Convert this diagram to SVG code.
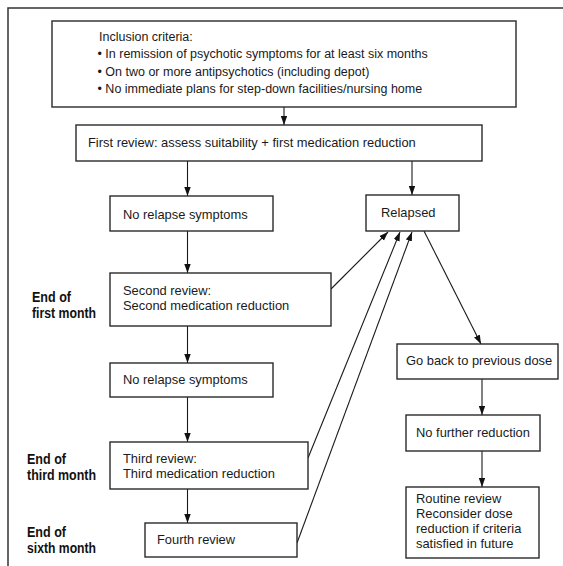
<svg xmlns="http://www.w3.org/2000/svg" width="563" height="566" viewBox="0 0 563 566">
<style>
.box{fill:#fff;stroke:#2a2a2a;stroke-width:1.4}
.t{font-family:"Liberation Sans",Arial,sans-serif;font-size:12.9px;fill:#1a1a1a}
.s{font-family:"Liberation Sans",Arial,sans-serif;font-size:12.5px;fill:#1a1a1a}
.b{font-family:"Liberation Sans",Arial,sans-serif;font-size:15px;font-weight:bold;fill:#111}
.c{fill:none;stroke:#1a1a1a;stroke-width:1.1;marker-end:url(#ah)}
.frame{fill:none;stroke:#333;stroke-width:1.5}
</style>
<defs>
<marker id="ah" markerUnits="userSpaceOnUse" markerWidth="10" markerHeight="8" refX="9" refY="3.2" orient="auto">
<path d="M0,0 L9,3.2 L0,6.4 z" fill="#111"/>
</marker>
</defs>
<rect width="563" height="566" fill="#fff"/>
<path class="frame" d="M8,566 V8 H563"/>

<g id="connectors">
<line class="c" x1="284" y1="107" x2="284" y2="125"/>
<line class="c" x1="187.5" y1="161" x2="187.5" y2="196"/>
<line class="c" x1="412" y1="161" x2="412" y2="195"/>
<line class="c" x1="187.5" y1="231" x2="187.5" y2="273"/>
<line class="c" x1="187.5" y1="326" x2="187.5" y2="363"/>
<line class="c" x1="187.5" y1="397" x2="187.5" y2="442"/>
<line class="c" x1="187.5" y1="489" x2="187.5" y2="523"/>
<line class="c" x1="331" y1="289" x2="388" y2="232"/>
<line class="c" x1="308" y1="458" x2="400" y2="232"/>
<line class="c" x1="297" y1="543" x2="412" y2="232"/>
<line class="c" x1="424" y1="231" x2="481" y2="344"/>
<line class="c" x1="482" y1="379" x2="482" y2="415"/>
<line class="c" x1="482" y1="451" x2="482" y2="487"/>
</g>

<g id="inclusion">
<rect class="box" x="52" y="21" width="464" height="86"/>
<text class="s" x="99" y="40.5">Inclusion criteria:</text>
<text class="s" x="97.5" y="58">• In remission of psychotic symptoms for at least six months</text>
<text class="s" x="97.5" y="75.5">• On two or more antipsychotics (including depot)</text>
<text class="s" x="97.5" y="93">• No immediate plans for step-down facilities/nursing home</text>
</g>

<g id="first-review">
<rect class="box" x="76" y="125" width="406" height="36"/>
<text class="t" x="88" y="147">First review: assess suitability + first medication reduction</text>
</g>

<g id="no-relapse-1">
<rect class="box" x="110" y="196" width="163" height="35"/>
<text class="t" x="123" y="219">No relapse symptoms</text>
</g>

<g id="relapsed">
<rect class="box" x="366" y="195" width="93" height="36"/>
<text class="t" x="381" y="217">Relapsed</text>
</g>

<g id="second-review">
<rect class="box" x="110" y="273" width="221" height="53"/>
<text class="t" x="123" y="295">Second review:</text>
<text class="t" x="123" y="309.5">Second medication reduction</text>
</g>

<g id="no-relapse-2">
<rect class="box" x="110" y="363" width="163" height="34"/>
<text class="t" x="123" y="384">No relapse symptoms</text>
</g>

<g id="third-review">
<rect class="box" x="110" y="442" width="198" height="47"/>
<text class="t" x="123" y="463">Third review:</text>
<text class="t" x="123" y="478">Third medication reduction</text>
</g>

<g id="fourth-review">
<rect class="box" x="145" y="523" width="152" height="34"/>
<text class="t" x="157" y="544">Fourth review</text>
</g>

<g id="go-back">
<rect class="box" x="397" y="344" width="161" height="35"/>
<text class="t" x="406" y="365">Go back to previous dose</text>
</g>

<g id="no-further">
<rect class="box" x="406" y="415" width="134" height="36"/>
<text class="t" x="416" y="437">No further reduction</text>
</g>

<g id="routine">
<rect class="box" x="406" y="487" width="133" height="71"/>
<text class="t" x="416" y="503">Routine review</text>
<text class="t" x="416" y="518">Reconsider dose</text>
<text class="t" x="416" y="533">reduction if criteria</text>
<text class="t" x="416" y="548">satisfied in future</text>
</g>

<g id="time-labels">
<text class="b" x="32" y="302" textLength="39" lengthAdjust="spacingAndGlyphs">End of</text>
<text class="b" x="32" y="318" textLength="64" lengthAdjust="spacingAndGlyphs">first month</text>
<text class="b" x="27" y="464" textLength="39" lengthAdjust="spacingAndGlyphs">End of</text>
<text class="b" x="27" y="480" textLength="69" lengthAdjust="spacingAndGlyphs">third month</text>
<text class="b" x="27" y="537" textLength="39" lengthAdjust="spacingAndGlyphs">End of</text>
<text class="b" x="27" y="553" textLength="69" lengthAdjust="spacingAndGlyphs">sixth month</text>
</g>
</svg>
